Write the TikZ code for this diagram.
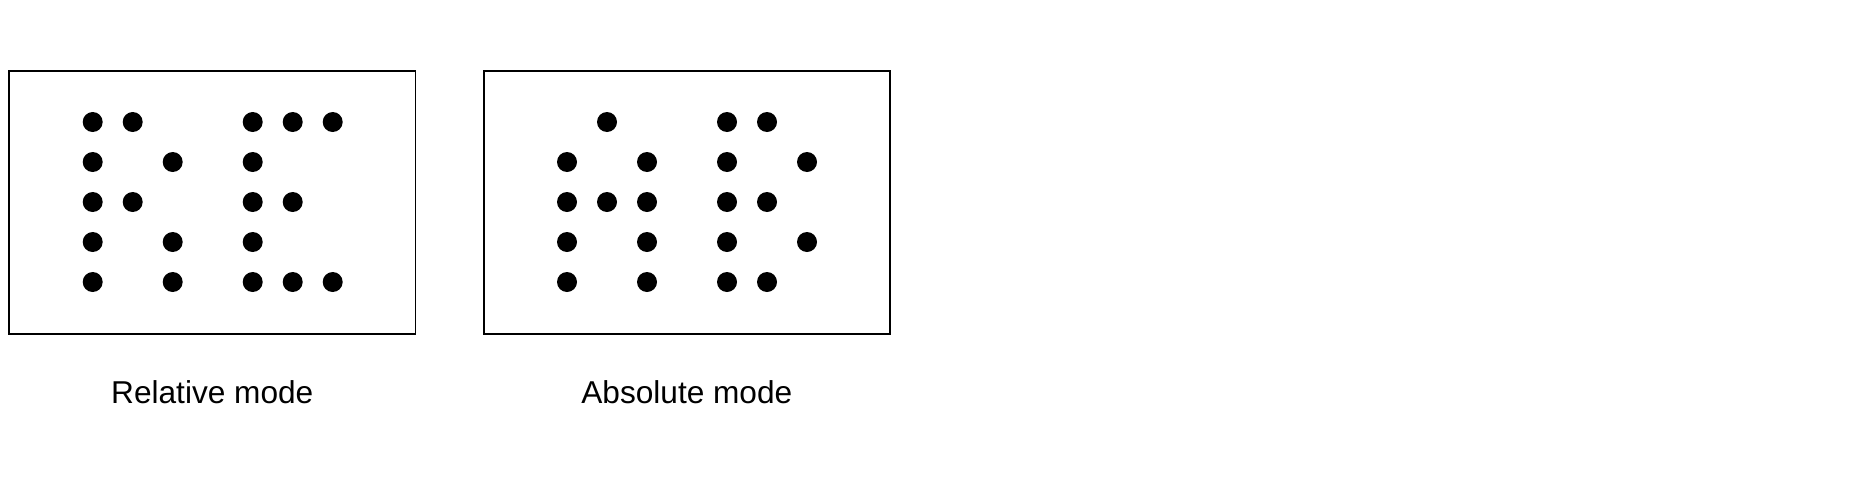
\documentclass[tikz,border=0pt]{standalone}
\usepackage{fontspec}
\setmainfont{Liberation Sans}
\usetikzlibrary{positioning}

\begin{document}
\begin{tikzpicture}[x = 0.02cm, y = -0.02cm,
    dot/.style = {shape = circle, fill = black, inner sep = 0pt, minimum size = 0.4cm},
    frame/.style = {draw, line width = 1.1pt, inner sep = 0pt, minimum width = 8.13cm, minimum height = 5.27cm},
    caption/.style = {font = \fontsize{18}{22}\selectfont, anchor = base}]
    \useasboundingbox (0,0) rectangle (1856,501);
    \node [frame] (rel) at (212.3,202.3) {};
    \node [frame] (abs) at (686.8,202.3) {};
    % letters R and E
    \foreach \c/\r in {0/0,1/0,4/0,5/0,6/0, 0/1,2/1,4/1, 0/2,1/2,4/2,5/2,
                       0/3,2/3,4/3, 0/4,2/4,4/4,5/4,6/4}
        \node [dot] (rel-\c-\r) at (92.7+40*\c, 122+40*\r) {};
    % letters A and B
    \foreach \c/\r in {1/0,4/0,5/0, 0/1,2/1,4/1,6/1, 0/2,1/2,2/2,4/2,5/2,
                       0/3,2/3,4/3,6/3, 0/4,2/4,4/4,5/4}
        \node [dot] (abs-\c-\r) at (567+40*\c, 122+40*\r) {};
    \node [caption] (rel-label) at (212.3,403) {Relative mode};
    \node [caption] (abs-label) at (686.8,403) {Absolute mode};
\end{tikzpicture}
\end{document}
